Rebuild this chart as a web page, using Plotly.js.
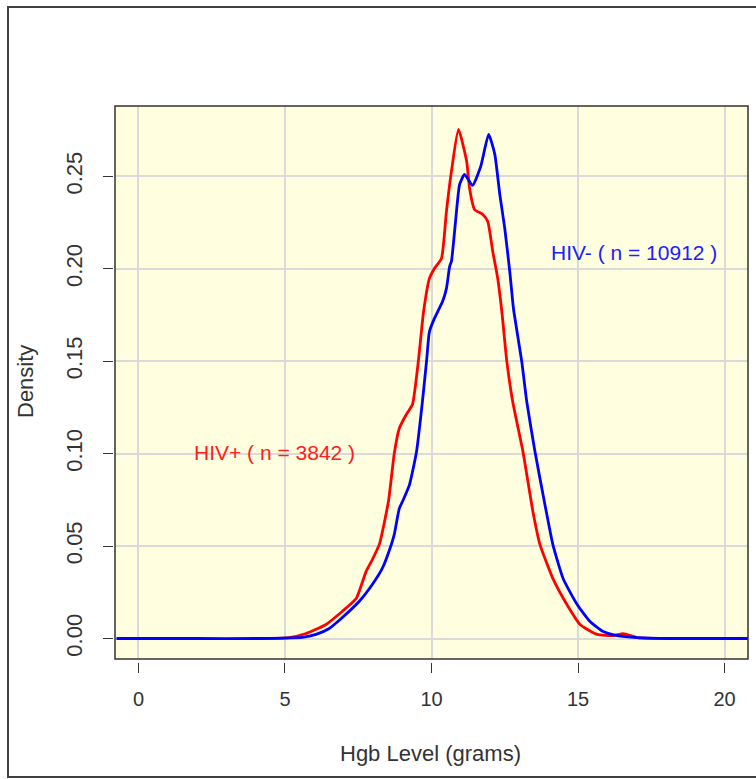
<!DOCTYPE html>
<html>
<head>
<meta charset="utf-8">
<script src="https://cdn.plot.ly/plotly-3.0.1.min.js"></script>
<style>
  html, body { margin: 0; padding: 0; background: #ffffff; }
  #chart { width: 756px; height: 779px; }
</style>
</head>
<body>
<div id="chart"></div>
<script>
// HIV+ density (red)
const hgbPos = [3.94, 4.5, 5.14, 5.72, 6.40, 6.95, 7.43, 7.77, 7.95, 8.22, 8.53, 8.73, 8.90, 9.14, 9.35, 9.55, 9.73, 9.93, 10.10, 10.34, 10.51, 10.68, 10.92, 11.20, 11.30, 11.47, 11.75, 11.92, 12.09, 12.26, 12.40, 12.57, 12.77, 13.12, 13.46, 13.70, 14.14, 14.62, 15.07, 15.65, 16.20, 16.54, 17.02, 17.91, 18.56];
const densPos = [0.0, 0.0, 0.0005, 0.0027, 0.0076, 0.0146, 0.0216, 0.0363, 0.0417, 0.0509, 0.0741, 0.1001, 0.1136, 0.1212, 0.1266, 0.1499, 0.1769, 0.1948, 0.2002, 0.2056, 0.2311, 0.2527, 0.2754, 0.2581, 0.2435, 0.2321, 0.2294, 0.2256, 0.2094, 0.1948, 0.1769, 0.1499, 0.1282, 0.1012, 0.0687, 0.0509, 0.0325, 0.0184, 0.0076, 0.0022, 0.0016, 0.0027, 0.0005, 0.0, 0.0];

// HIV- density (blue)
const hgbNeg = [-0.75, 2.0, 4.0, 4.97, 5.58, 6.06, 6.51, 6.92, 7.53, 7.98, 8.32, 8.63, 8.73, 8.90, 9.01, 9.25, 9.49, 9.69, 9.83, 9.93, 10.10, 10.38, 10.51, 10.62, 10.68, 10.82, 10.96, 11.13, 11.40, 11.68, 11.95, 12.16, 12.33, 12.50, 12.67, 12.77, 12.81, 13.08, 13.25, 13.53, 13.87, 14.14, 14.49, 14.97, 15.41, 15.86, 16.34, 17.02, 18.15, 21.2];
const densNeg = [0.0, 0.0, 0.0, 0.0002, 0.0006, 0.0022, 0.0054, 0.0108, 0.0200, 0.0292, 0.0379, 0.0509, 0.0563, 0.0703, 0.0741, 0.0833, 0.1012, 0.1282, 0.1499, 0.1661, 0.1732, 0.1824, 0.1894, 0.2013, 0.2040, 0.2256, 0.2457, 0.2511, 0.2451, 0.2554, 0.2727, 0.2619, 0.2403, 0.2219, 0.1986, 0.1824, 0.1769, 0.1499, 0.1282, 0.1012, 0.0725, 0.0509, 0.0325, 0.0184, 0.0092, 0.0038, 0.0016, 0.0005, 0.0, 0.0];

const xTicks = [0, 5, 10, 15, 20];
const xTickLabels = ["0", "5", "10", "15", "20"];
const yTicks = [0, 0.05, 0.10, 0.15, 0.20, 0.25];
const yTickLabels = ["0.00", "0.05", "0.10", "0.15", "0.20", "0.25"];

const labelPos = "HIV+ ( n = 3842 )";
const labelNeg = "HIV- ( n = 10912 )";
const xTitle = "Hgb Level (grams)";
const yTitle = "Density";

const font = "Liberation Sans, Arial, sans-serif";
const txtColor = "#333333";

const traces = [
  { x: hgbPos, y: densPos, type: "scatter", mode: "lines", line: { color: "#ff0000", width: 2.8, shape: "spline", smoothing: 0.5 }, hoverinfo: "skip" },
  { x: hgbNeg, y: densNeg, type: "scatter", mode: "lines", line: { color: "#0000ff", width: 2.8, shape: "spline", smoothing: 0.5 }, hoverinfo: "skip" }
];

const W = 756 - 113 - 8;   // paper width
const H = 779 - 106 - 117; // paper height

const layout = {
  width: 756,
  height: 779,
  margin: { l: 113, r: 8, t: 106, b: 117, pad: 0 },
  paper_bgcolor: "#ffffff",
  plot_bgcolor: "#ffffe0",
  showlegend: false,
  font: { family: font, size: 20, color: txtColor },
  xaxis: {
    domain: [2 / W, 1],
    anchor: "free",
    position: 0,
    range: [-0.8, 20.8],
    tickmode: "array",
    tickvals: xTicks,
    ticktext: xTickLabels,
    ticks: "outside",
    ticklen: 10,
    tickwidth: 1,
    tickcolor: "#333333",
    ticklabelstandoff: 9,
    showgrid: true,
    gridcolor: "#dadada",
    gridwidth: 2,
    zeroline: false,
    showline: false,
    tickfont: { family: font, size: 20, color: txtColor }
  },
  yaxis: {
    domain: [3 / H, 1],
    anchor: "free",
    position: 0,
    range: [-0.01108, 0.28808],
    tickmode: "array",
    tickvals: yTicks,
    ticktext: yTickLabels,
    tickangle: -90,
    ticks: "outside",
    ticklen: 10,
    tickwidth: 1,
    tickcolor: "#333333",
    ticklabelstandoff: 12,
    showgrid: true,
    gridcolor: "#dadada",
    gridwidth: 2,
    zeroline: false,
    showline: false,
    tickfont: { family: font, size: 22, color: txtColor }
  },
  shapes: [
    { type: "rect", xref: "paper", yref: "paper", x0: 2 / W, x1: 1, y0: 3 / H, y1: 1,
      line: { color: "#333333", width: 1.5 }, fillcolor: "rgba(0,0,0,0)", layer: "above" },
    { type: "rect", xref: "paper", yref: "paper",
      x0: (8 - 113) / W, x1: (770 - 113) / W, y0: -(777 - 662) / H, y1: 1 + (106 - 7) / H,
      line: { color: "#404040", width: 2 }, fillcolor: "rgba(0,0,0,0)", layer: "above" }
  ],
  annotations: [
    { x: 4.65, y: 0.1004, xref: "x", yref: "y", text: labelPos, showarrow: false,
      font: { family: font, size: 21, color: "#ff2020" }, xanchor: "center", yanchor: "middle" },
    { x: 16.9, y: 0.2086, xref: "x", yref: "y", text: labelNeg, showarrow: false,
      font: { family: font, size: 21, color: "#2020ff" }, xanchor: "center", yanchor: "middle" },
    { x: 0.5, y: -(753 - 662) / H, xref: "paper", yref: "paper", text: xTitle, showarrow: false,
      font: { family: font, size: 22, color: txtColor }, xanchor: "center", yanchor: "middle" },
    { x: (25 - 113) / W, y: 1 - (382 - 106) / H, xref: "paper", yref: "paper", text: yTitle, showarrow: false,
      textangle: -90, font: { family: font, size: 22, color: txtColor }, xanchor: "center", yanchor: "middle" }
  ]
};

Plotly.newPlot("chart", traces, layout, { displayModeBar: false, staticPlot: true });
</script>
</body>
</html>
